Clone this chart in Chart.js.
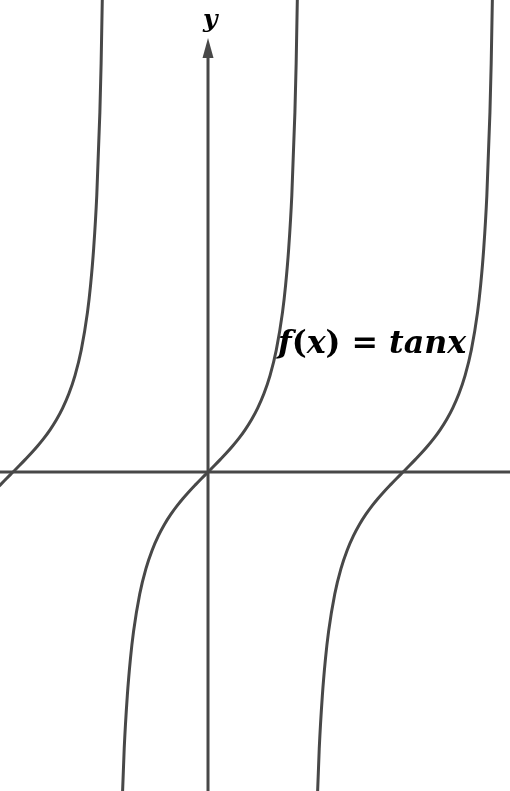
<!DOCTYPE html>
<html>
<head>
<meta charset="utf-8">
<script src="https://cdn.jsdelivr.net/npm/chart.js@4"></script>
<style>
html,body{margin:0;padding:0;background:#fff;}
#wrap{width:510px;height:791px;position:relative;}
</style>
</head>
<body>
<div id="wrap"><canvas id="c"></canvas></div>
<script>
// Branch of tan x left of the y-axis (asymptote at -pi/2)
const leftX = [-3.442,-3.342,-3.242,-3.142,-3.042,-2.942,-2.842,-2.742,-2.642,-2.542,-2.442,-2.342,-2.242,-2.142,-2.042,-1.942,-1.892,-1.842,-1.792,-1.742,-1.722,-1.692];
const leftY = [-0.309,-0.203,-0.100,0,0.100,0.203,0.309,0.423,0.546,0.684,0.842,1.030,1.260,1.557,1.965,2.572,3.010,3.602,4.455,5.798,6.581,8.238];
// Central branch through the origin
const midX = [-1.40,-1.35,-1.30,-1.25,-1.20,-1.10,-1.00,-0.90,-0.80,-0.70,-0.60,-0.50,-0.40,-0.30,-0.20,-0.10,0,0.10,0.20,0.30,0.40,0.50,0.60,0.70,0.80,0.90,1.00,1.10,1.20,1.25,1.30,1.35,1.40,1.42,1.45];
const midY = [-5.798,-4.455,-3.602,-3.010,-2.572,-1.965,-1.557,-1.260,-1.030,-0.842,-0.684,-0.546,-0.423,-0.309,-0.203,-0.100,0,0.100,0.203,0.309,0.423,0.546,0.684,0.842,1.030,1.260,1.557,1.965,2.572,3.010,3.602,4.455,5.798,6.581,8.238];
// Branch right of the asymptote at pi/2
const rightX = [1.742,1.792,1.842,1.892,1.942,2.042,2.142,2.242,2.342,2.442,2.542,2.642,2.742,2.842,2.942,3.042,3.142,3.242,3.342,3.442,3.542,3.642,3.742,3.842,3.942,4.042,4.142,4.242,4.342,4.392,4.442,4.492,4.542,4.562,4.592];
const rightY = [-5.798,-4.455,-3.602,-3.010,-2.572,-1.965,-1.557,-1.260,-1.030,-0.842,-0.684,-0.546,-0.423,-0.309,-0.203,-0.100,0,0.100,0.203,0.309,0.423,0.546,0.684,0.842,1.030,1.260,1.557,1.965,2.572,3.010,3.602,4.455,5.798,6.581,8.238];
// Axis extents and labels
const xRange = [-3.351, 4.865];
const yRange = [-5.139, 7.604];
const yAxisTop = 6.70;
const arrowTip = 6.99;
// label pieces: [text, italic]
const curveLabelParts = [["f",true],["(",false],["x",true],[")",false],[" = ",false],["tanx",true]];
const curveLabelPos = [1.128, 2.05];
const curveLabelEnd = 4.16;
const axisLabel = "y";
const axisLabelPos = [0.035, 7.27];

const INK = '#484848';
const FONT = '"DejaVu Serif", "Liberation Serif", serif';
const pts = (xs, ys) => xs.map((x, i) => ({x, y: ys[i]}));

const curveStyle = {showLine:true, pointRadius:0, borderColor:INK, borderWidth:3, cubicInterpolationMode:'monotone', fill:false};
const axisStyle = {showLine:true, pointRadius:0, borderColor:INK, borderWidth:3, tension:0, fill:false};

const decor = {
  id:'decor',
  afterDatasetsDraw(chart){
    const {ctx, scales:{x, y}} = chart;
    ctx.save();
    // arrow head on y axis
    const cx = x.getPixelForValue(0);
    const tip = y.getPixelForValue(arrowTip);
    const base = y.getPixelForValue(yAxisTop) + 2;
    ctx.fillStyle = INK;
    ctx.beginPath();
    ctx.moveTo(cx, tip);
    ctx.lineTo(cx - 5.5, base);
    ctx.lineTo(cx + 5.5, base);
    ctx.closePath();
    ctx.fill();
    ctx.fillStyle = '#000';
    ctx.textBaseline = 'middle';
    ctx.font = `italic bold 25px ${FONT}`;
    ctx.textAlign = 'center';
    ctx.fillText(axisLabel, x.getPixelForValue(axisLabelPos[0]), y.getPixelForValue(axisLabelPos[1]));
    // curve label, pieces in italic / upright, scaled to reference width
    const fontFor = (s, it) => `${it ? 'italic ' : ''}bold ${s}px ${FONT}`;
    const widthAt = s => curveLabelParts.reduce((acc, [t, it]) => { ctx.font = fontFor(s, it); return acc + ctx.measureText(t).width; }, 0);
    const target = x.getPixelForValue(curveLabelEnd) - x.getPixelForValue(curveLabelPos[0]);
    const size = 26 * target / widthAt(26);
    ctx.textAlign = 'left';
    let px = x.getPixelForValue(curveLabelPos[0]);
    const py = y.getPixelForValue(curveLabelPos[1]);
    for (const [t, it] of curveLabelParts) {
      ctx.font = fontFor(size, it);
      ctx.fillText(t, px, py);
      px += ctx.measureText(t).width;
    }
    ctx.restore();
  }
};

new Chart(document.getElementById('c'), {
  type:'scatter',
  data:{datasets:[
    {...axisStyle, data:[{x:xRange[0], y:0},{x:xRange[1], y:0}]},
    {...axisStyle, data:[{x:0, y:yRange[0]},{x:0, y:yAxisTop}]},
    {...curveStyle, data:pts(leftX, leftY)},
    {...curveStyle, data:pts(midX, midY)},
    {...curveStyle, data:pts(rightX, rightY)}
  ]},
  options:{
    responsive:true, maintainAspectRatio:false, animation:false,
    layout:{padding:0},
    plugins:{legend:{display:false}, tooltip:{enabled:false}},
    scales:{
      x:{type:'linear', display:false, min:xRange[0], max:xRange[1]},
      y:{type:'linear', display:false, min:yRange[0], max:yRange[1]}
    }
  },
  plugins:[decor]
});
</script>
</body>
</html>
